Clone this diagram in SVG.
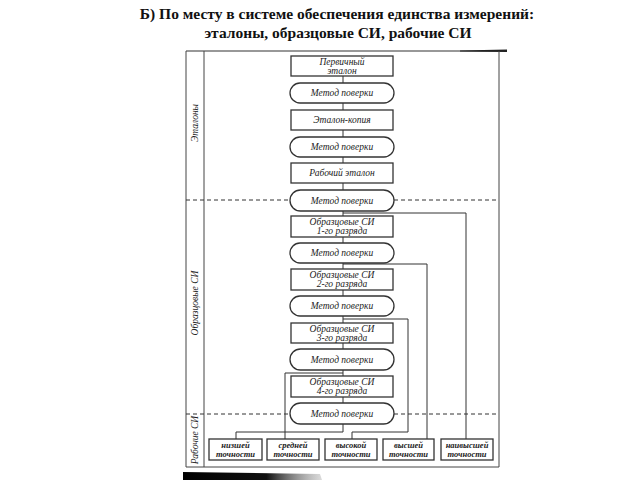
<svg xmlns="http://www.w3.org/2000/svg" width="640" height="480" viewBox="0 0 640 480">
<defs>
<linearGradient id="bar" x1="0" y1="0" x2="1" y2="0">
<stop offset="0" stop-color="#000"/>
<stop offset="0.6" stop-color="#111"/>
<stop offset="1" stop-color="#888" stop-opacity="0.3"/>
</linearGradient>
</defs>
<style>
.title{font-family:"Liberation Serif","DejaVu Serif",serif;font-weight:bold;font-size:15.5px;fill:#111;text-anchor:middle}
.frame{fill:none;stroke:#444;stroke-width:1}
.box{fill:#fff;stroke:#333;stroke-width:1.3}
.t{font-family:"Liberation Serif","DejaVu Serif",serif;font-style:italic;font-size:9.5px;fill:#222;text-anchor:middle}
.tb{font-family:"Liberation Serif","DejaVu Serif",serif;font-style:italic;font-weight:bold;font-size:8.5px;fill:#222;text-anchor:middle}
.lbl{font-family:"Liberation Serif","DejaVu Serif",serif;font-style:italic;font-size:9.5px;fill:#222;text-anchor:middle}
.conn{fill:none;stroke:#333;stroke-width:1}
.dash{fill:none;stroke:#333;stroke-width:1;stroke-dasharray:4 3}
</style>
<rect width="640" height="480" fill="#fff"/>
<g id="title">
<text class="title" x="337" y="19">Б) По месту в системе обеспечения единства измерений:</text>
<text class="title" x="338" y="38">эталоны, образцовые СИ, рабочие СИ</text>
</g>
<g id="frame">
<line x1="186" y1="51" x2="505" y2="51" stroke="#333" stroke-width="1.2"/>
<polygon points="460,50.5 507,49.5 507,52 460,51.5" fill="#222"/>
<polyline class="frame" points="186,51 186,467 499,467 499,51"/>
<line class="frame" x1="204" y1="51" x2="204" y2="467"/>
<polygon points="183,472 320,474 322,480 183,480" fill="url(#bar)"/>
</g>
<g id="labels">
<text class="lbl" transform="translate(198,123) rotate(-90)">Эталоны</text>
<text class="lbl" transform="translate(198,303) rotate(-90)">Образцовые СИ</text>
<text class="lbl" transform="translate(198,440) rotate(-90)">Рабочие СИ</text>
</g>
<g id="connectors">
<line class="conn" x1="343" y1="66" x2="343" y2="432"/>
<path class="conn" d="M343 432 H236 V439"/>
<path class="conn" d="M343 373 H285 V439"/>
<path class="conn" d="M343 319 H408 V432 H352 V439"/>
<path class="conn" d="M343 264 H427 V439"/>
<path class="conn" d="M343 213 H466 V439"/>
<line class="dash" x1="186" y1="200" x2="290" y2="200"/>
<line class="dash" x1="394" y1="200" x2="499" y2="200"/>
<line class="dash" x1="186" y1="414" x2="290" y2="414"/>
<line class="dash" x1="394" y1="414" x2="499" y2="414"/>
</g>
<g id="n1"><rect class="box" x="291" y="56" width="102" height="20"/><text class="t" x="342" y="65">Первичный</text><text class="t" x="342" y="74">эталон</text></g>
<g id="m1"><rect class="box" x="290" y="83" width="104" height="20" rx="10"/><text class="t" x="342" y="96">Метод поверки</text></g>
<g id="n2"><rect class="box" x="291" y="110" width="102" height="20"/><text class="t" x="342" y="123">Эталон-копия</text></g>
<g id="m2"><rect class="box" x="290" y="137" width="104" height="20" rx="10"/><text class="t" x="342" y="150">Метод поверки</text></g>
<g id="n3"><rect class="box" x="291" y="163" width="102" height="20"/><text class="t" x="342" y="176">Рабочий эталон</text></g>
<g id="m3"><rect class="box" x="290" y="190" width="104" height="21" rx="10.5"/><text class="t" x="342" y="203.5">Метод поверки</text></g>
<g id="n4"><rect class="box" x="291" y="216" width="102" height="21"/><text class="t" x="342" y="225">Образцовые СИ</text><text class="t" x="342" y="234">1-го разряда</text></g>
<g id="m4"><rect class="box" x="290" y="243" width="104" height="20" rx="10"/><text class="t" x="342" y="256">Метод поверки</text></g>
<g id="n5"><rect class="box" x="291" y="269" width="102" height="21"/><text class="t" x="342" y="278">Образцовые СИ</text><text class="t" x="342" y="287">2-го разряда</text></g>
<g id="m5"><rect class="box" x="290" y="296" width="104" height="20" rx="10"/><text class="t" x="342" y="309">Метод поверки</text></g>
<g id="n6"><rect class="box" x="291" y="323" width="102" height="20"/><text class="t" x="342" y="332">Образцовые СИ</text><text class="t" x="342" y="341">3-го разряда</text></g>
<g id="m6"><rect class="box" x="290" y="349" width="104" height="21" rx="10.5"/><text class="t" x="342" y="362.5">Метод поверки</text></g>
<g id="n7"><rect class="box" x="291" y="376" width="102" height="21"/><text class="t" x="342" y="385">Образцовые СИ</text><text class="t" x="342" y="394">4-го разряда</text></g>
<g id="m7"><rect class="box" x="290" y="403" width="104" height="21" rx="10.5"/><text class="t" x="342" y="416.5">Метод поверки</text></g>
<g id="b1"><rect class="box" x="209" y="439" width="53" height="21"/><text class="tb" x="235.5" y="448">низшей</text><text class="tb" x="235.5" y="457">точности</text></g>
<g id="b2"><rect class="box" x="267" y="439" width="52" height="21"/><text class="tb" x="293" y="448">средней</text><text class="tb" x="293" y="457">точности</text></g>
<g id="b3"><rect class="box" x="325" y="439" width="52" height="21"/><text class="tb" x="351" y="448">высокой</text><text class="tb" x="351" y="457">точности</text></g>
<g id="b4"><rect class="box" x="383" y="439" width="51" height="21"/><text class="tb" x="408.5" y="448">высшей</text><text class="tb" x="408.5" y="457">точности</text></g>
<g id="b5"><rect class="box" x="441" y="439" width="52" height="21"/><text class="tb" x="467" y="448">наивысшей</text><text class="tb" x="467" y="457">точности</text></g>
</svg>
